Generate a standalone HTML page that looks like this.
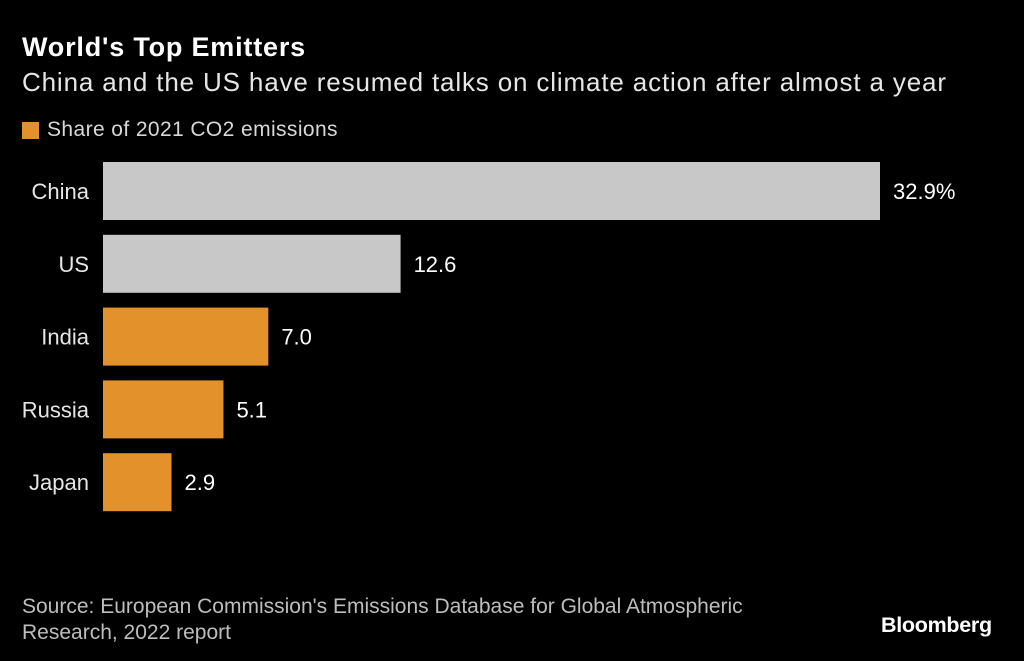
<!DOCTYPE html>
<html><head><meta charset="utf-8"><style>
html,body{margin:0;padding:0;background:#000;}
body{width:1024px;height:661px;position:relative;overflow:hidden;font-family:"Liberation Sans",sans-serif;color:#fff;}
.t{position:absolute;white-space:nowrap;}
</style></head><body>
<div class="t" style="left:22px;top:32px;font-size:27px;font-weight:bold;letter-spacing:0.8px;">World's Top Emitters</div>
<div class="t" style="left:22px;top:67px;font-size:26px;letter-spacing:0.85px;color:#e6e6e6;">China and the US have resumed talks on climate action after almost a year</div>
<div class="t" style="left:22px;top:122px;width:17px;height:17px;background:#e3922b;"></div>
<div class="t" style="left:47px;top:118px;font-size:21px;letter-spacing:0.4px;color:#d8d8d8;">Share of 2021 CO2 emissions</div>
<svg id="chart" width="1024" height="661" style="position:absolute;left:0;top:0;"></svg>
<div class="t" style="left:22px;top:594px;font-size:21px;color:#bdbdbd;line-height:26px;">Source: European Commission's Emissions Database for Global Atmospheric<br>Research, 2022 report</div>
<div class="t" style="left:881px;top:613px;font-size:21.5px;font-weight:bold;letter-spacing:-0.3px;">Bloomberg</div>
<script>
const categories=["China","US","India","Russia","Japan"];
const values=[32.9,12.6,7.0,5.1,2.9];
const labels=["32.9%","12.6","7.0","5.1","2.9"];
const colors=["#c8c8c8","#c8c8c8","#e3922b","#e3922b","#e3922b"];
const svg=document.getElementById('chart');
const NS="http://www.w3.org/2000/svg";
const x0=103, pxPer=777/32.9;
function xs(v){return v*pxPer;}
function ys(i){return 162+i*72.8;}
const bh=58;
categories.forEach((c,i)=>{
  const r=document.createElementNS(NS,'rect');
  r.setAttribute('x',x0);r.setAttribute('y',ys(i));
  r.setAttribute('width',xs(values[i]));r.setAttribute('height',bh);
  r.setAttribute('fill',colors[i]);
  
  
  svg.appendChild(r);
  const t=document.createElementNS(NS,'text');
  t.setAttribute('x',89);t.setAttribute('y',ys(i)+bh/2+8);
  t.setAttribute('text-anchor','end');t.setAttribute('fill','#e6e6e6');
  t.setAttribute('font-size','22');t.setAttribute('font-family','Liberation Sans, sans-serif');
  t.textContent=c;
  
  
  svg.appendChild(t);
  const v=document.createElementNS(NS,'text');
  v.setAttribute('x',x0+xs(values[i])+13);v.setAttribute('y',ys(i)+bh/2+8);
  v.setAttribute('fill','#ffffff');
  v.setAttribute('font-size','22');v.setAttribute('font-family','Liberation Sans, sans-serif');
  v.textContent=labels[i];
  
  
  svg.appendChild(v);
});
</script>
</body></html>
